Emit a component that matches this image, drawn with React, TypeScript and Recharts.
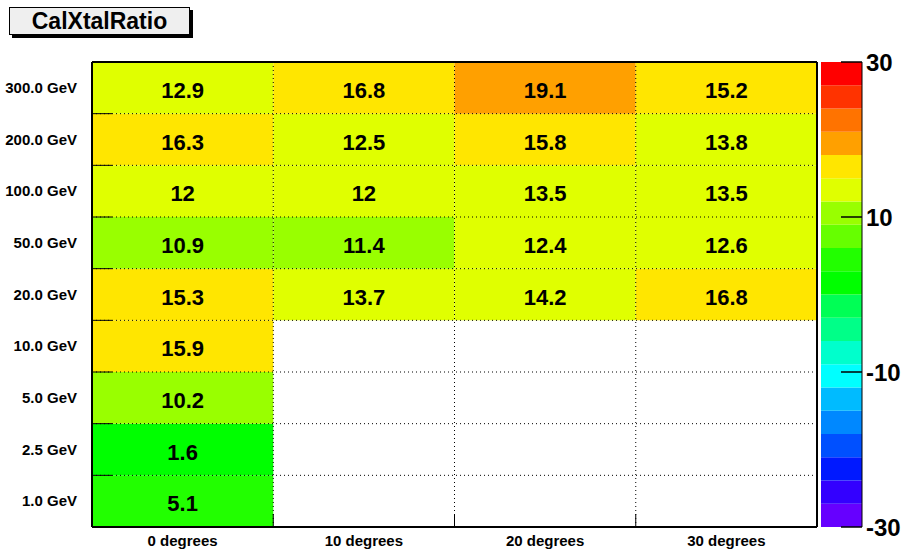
import React from 'react';
import { ComposedChart, XAxis, YAxis, ReferenceArea, ReferenceLine, Scatter } from 'recharts';

// ---- data ----
const angleLabels = ['0 degrees', '10 degrees', '20 degrees', '30 degrees'];
const energyLabels = ['1.0 GeV', '2.5 GeV', '5.0 GeV', '10.0 GeV', '20.0 GeV', '50.0 GeV', '100.0 GeV', '200.0 GeV', '300.0 GeV'];
// values per angle column, ordered by energy (1.0 GeV ... 300.0 GeV); null = empty bin
const ratioAt0deg: (number | null)[] = [5.1, 1.6, 10.2, 15.9, 15.3, 10.9, 12, 16.3, 12.9];
const ratioAt10deg: (number | null)[] = [null, null, null, null, 13.7, 11.4, 12, 12.5, 16.8];
const ratioAt20deg: (number | null)[] = [null, null, null, null, 14.2, 12.4, 13.5, 15.8, 19.1];
const ratioAt30deg: (number | null)[] = [null, null, null, null, 16.8, 12.6, 13.5, 13.8, 15.2];
const colorScaleRange = [-30, 30];
const colorScaleTicks = [-30, -10, 10, 30];
// palette from lowest to highest contour
const paletteColors = [
  '#6600FF', '#3300FF', '#0019FF', '#0050FF', '#0088FF', '#00BBFF', '#00FFFF', '#00FFCC', '#00FF88', '#00FF55',
  '#00FF00', '#22FF00', '#66FF00', '#99FF00', '#E0FF00', '#FFE600', '#FFA000', '#FF7300', '#FF3300', '#FF0000',
];
const title = 'CalXtalRatio';

// ---- derived ----
const columns = [ratioAt0deg, ratioAt10deg, ratioAt20deg, ratioAt30deg];
const zMin = colorScaleRange[0];
const zMax = colorScaleRange[1];
const zStep = (zMax - zMin) / paletteColors.length;
const colorFor = (v: number) => {
  let i = Math.floor((v - zMin) / zStep);
  if (i < 0) i = 0;
  if (i >= paletteColors.length) i = paletteColors.length - 1;
  return paletteColors[i];
};

type Cell = { x: number; y: number; col: number; row: number; v: number };
const cells: Cell[] = [];
columns.forEach((col, i) => {
  col.forEach((v, j) => {
    if (v !== null) cells.push({ x: i + 0.5, y: j + 0.5, col: i, row: j, v });
  });
});

const nCols = angleLabels.length;
const nRows = energyLabels.length;
const colCenters = angleLabels.map((_, i) => i + 0.5);
const rowCenters = energyLabels.map((_, i) => i + 0.5);
const colEdges = Array.from({ length: nCols + 1 }, (_, i) => i);
const rowEdges = Array.from({ length: nRows + 1 }, (_, i) => i);
const innerColEdges = colEdges.slice(1, -1);
const innerRowEdges = rowEdges.slice(1, -1);

const bands = paletteColors.map((c, i) => ({ y1: zMin + i * zStep, y2: zMin + (i + 1) * zStep, color: c }));

const FONT = "'Liberation Sans', Arial, Helvetica, sans-serif";

const CellText = (props: any) => {
  const { cx, cy, payload } = props;
  if (cx == null || cy == null) return null;
  return (
    <text x={cx} y={cy} dy={10} textAnchor="middle" fontSize={22} fontWeight="bold" fill="#000" fontFamily={FONT}>
      {String(payload.v)}
    </text>
  );
};

const ZTick = (props: any) => {
  const { x, y, payload } = props;
  return (
    <g>
      <line x1={x - 21} x2={x} y1={y} y2={y} stroke="#000" strokeWidth={1.5} />
      <text x={x + 4} y={y} dy={9} fontSize={24} fontWeight="bold" fill="#000" fontFamily={FONT}>
        {payload.value}
      </text>
    </g>
  );
};

// inward tick marks (no labels)
const YEdgeTick = (p: any) => <line x1={p.x} x2={p.x + 20} y1={p.y} y2={p.y} stroke="#000" strokeWidth={1} />;
// short tick at the bottom of a vertical reference line
const BottomTickShape = (p: any) => {
  const bottom = Math.max(p.y1, p.y2);
  return <line x1={p.x1} x2={p.x1} y1={bottom} y2={bottom - 13} stroke="#000" strokeWidth={1} />;
};

export default function App() {
  return (
    <div style={{ position: 'absolute', left: 0, top: 0, width: 906, height: 555, background: '#fff', fontFamily: FONT }}>
      <ComposedChart width={906} height={555} margin={{ top: 62, right: 89, bottom: 0, left: 0 }}>
        <XAxis
          xAxisId={0}
          dataKey="x"
          type="number"
          domain={[0, nCols]}
          ticks={colCenters}
          tickFormatter={(v: number) => angleLabels[Math.floor(v)]}
          interval={0}
          tickLine={false}
          axisLine={false}
          tickSize={0}
          tickMargin={8}
          height={28}
          tick={{ fill: '#000', fontSize: 15, fontWeight: 'bold', fontFamily: FONT }}
          allowDataOverflow
        />
        <YAxis
          yAxisId={0}
          dataKey="y"
          type="number"
          domain={[0, nRows]}
          ticks={rowCenters}
          tickFormatter={(v: number) => energyLabels[Math.floor(v)]}
          interval={0}
          tickLine={false}
          axisLine={false}
          tickSize={0}
          tickMargin={15}
          width={92}
          tick={{ fill: '#000', fontSize: 15, fontWeight: 'bold', fontFamily: FONT }}
          allowDataOverflow
        />
        <YAxis
          yAxisId="ticks"
          type="number"
          domain={[0, nRows]}
          ticks={rowEdges}
          interval={0}
          mirror
          width={21}
          tickSize={0}
          tickMargin={0}
          axisLine={false}
          tickLine={false}
          tick={YEdgeTick}
          allowDataOverflow
        />
        {cells.map((c) => (
          <ReferenceArea
            key={`cell-${c.col}-${c.row}`}
            x1={c.col}
            x2={c.col + 1}
            y1={c.row}
            y2={c.row + 1}
            fill={colorFor(c.v)}
            fillOpacity={1}
            stroke="none"
            ifOverflow="visible"
          />
        ))}
        {innerColEdges.map((e) => (
          <ReferenceLine key={`gx-${e}`} x={e} stroke="#000" strokeWidth={1} strokeDasharray="1 3" ifOverflow="visible" />
        ))}
        {innerRowEdges.map((e) => (
          <ReferenceLine key={`gy-${e}`} y={e} stroke="#000" strokeWidth={1} strokeDasharray="1 3" ifOverflow="visible" />
        ))}
        {innerColEdges.map((e) => (
          <ReferenceLine key={`tx-${e}`} x={e} stroke="#000" ifOverflow="visible" shape={BottomTickShape} />
        ))}
        <ReferenceLine x={0} stroke="#000" strokeWidth={2} ifOverflow="visible" />
        <ReferenceLine x={nCols} stroke="#000" strokeWidth={2} ifOverflow="visible" />
        <ReferenceLine y={0} stroke="#000" strokeWidth={2} ifOverflow="visible" />
        <ReferenceLine y={nRows} stroke="#000" strokeWidth={2} ifOverflow="visible" />
        <Scatter data={cells} dataKey="y" isAnimationActive={false} shape={CellText} />
      </ComposedChart>

      <div style={{ position: 'absolute', left: 821, top: 0 }}>
        <ComposedChart width={85} height={555} margin={{ top: 62, right: 0, bottom: 28, left: 0 }}>
          <XAxis type="number" dataKey="x" domain={[0, 1]} hide height={0} allowDataOverflow />
          <YAxis
            type="number"
            orientation="right"
            domain={colorScaleRange}
            ticks={colorScaleTicks}
            interval={0}
            width={44}
            tickSize={0}
            tickMargin={0}
            tickLine={false}
            axisLine={{ stroke: '#000', strokeWidth: 1 }}
            tick={ZTick}
            allowDataOverflow
          />
          {bands.map((b, i) => (
            <ReferenceArea
              key={`band-${i}`}
              x1={0}
              x2={1}
              y1={b.y1}
              y2={b.y2}
              fill={b.color}
              fillOpacity={1}
              stroke="none"
              ifOverflow="visible"
            />
          ))}
        </ComposedChart>
      </div>

      <div
        style={{
          position: 'absolute',
          left: 9,
          top: 7,
          width: 181,
          height: 28,
          boxSizing: 'border-box',
          border: '1px solid #000',
          background: '#EFEFEF',
          boxShadow: '3px 3px 0 #000',
          fontFamily: FONT,
          fontWeight: 'bold',
          fontSize: 23,
          lineHeight: '26px',
          textAlign: 'center',
          color: '#000',
        }}
      >
        {title}
      </div>
    </div>
  );
}
